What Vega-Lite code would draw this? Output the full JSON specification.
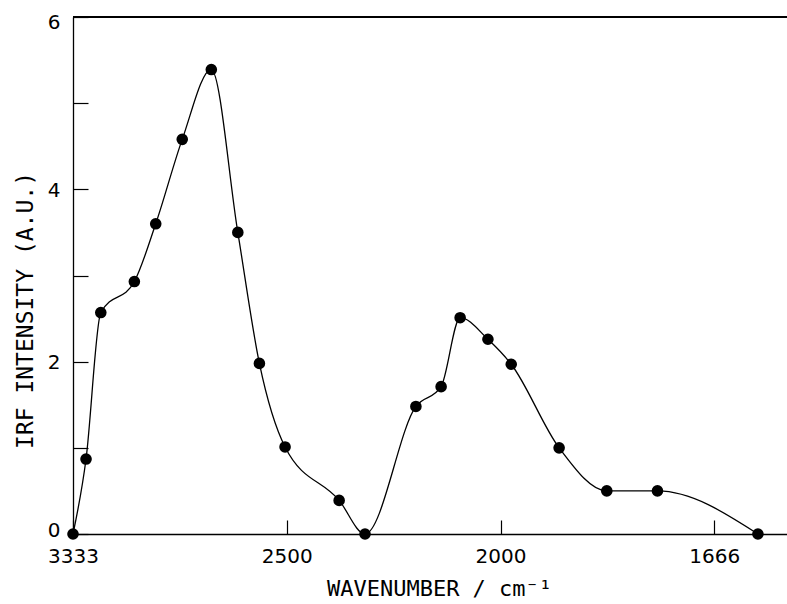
{
  "$schema": "https://vega.github.io/schema/vega-lite/v6.json",
  "width": 714,
  "height": 517,
  "autosize": {"type": "none"},
  "padding": {"left": 73, "top": 17, "right": 0, "bottom": 70},
  "background": "white",
  "config": {
    "view": {"stroke": null},
    "axis": {
      "grid": false,
      "domainColor": "black",
      "domainWidth": 1.3,
      "tickColor": "black",
      "tickWidth": 1.2,
      "labelColor": "black",
      "titleColor": "black",
      "labelFont": "DejaVu Sans",
      "labelFontSize": 20,
      "labelFontWeight": "normal",
      "labelFlush": false,
      "labelOverlap": false,
      "titleFont": "DejaVu Sans Mono",
      "titleFontSize": 22,
      "titleFontWeight": "normal"
    }
  },
  "data": {
    "values": [
      {"wavelength_um": 3.000, "irf": 0.00},
      {"wavelength_um": 3.061, "irf": 0.87},
      {"wavelength_um": 3.130, "irf": 2.57},
      {"wavelength_um": 3.287, "irf": 2.93},
      {"wavelength_um": 3.387, "irf": 3.60},
      {"wavelength_um": 3.511, "irf": 4.58},
      {"wavelength_um": 3.647, "irf": 5.39},
      {"wavelength_um": 3.771, "irf": 3.50},
      {"wavelength_um": 3.872, "irf": 1.98},
      {"wavelength_um": 3.992, "irf": 1.01},
      {"wavelength_um": 4.245, "irf": 0.39},
      {"wavelength_um": 4.366, "irf": 0.00},
      {"wavelength_um": 4.604, "irf": 1.48},
      {"wavelength_um": 4.722, "irf": 1.71},
      {"wavelength_um": 4.811, "irf": 2.51},
      {"wavelength_um": 4.941, "irf": 2.26},
      {"wavelength_um": 5.050, "irf": 1.97},
      {"wavelength_um": 5.274, "irf": 1.00},
      {"wavelength_um": 5.497, "irf": 0.50},
      {"wavelength_um": 5.734, "irf": 0.50},
      {"wavelength_um": 6.204, "irf": 0.00}
    ]
  },
  "encoding": {
    "x": {
      "field": "wavelength_um",
      "type": "quantitative",
      "scale": {"domain": [3, 6.34], "nice": false, "zero": false},
      "axis": {
        "values": [3, 4, 5, 6],
        "labelExpr": "floor(10000 / datum.value)",
        "tickSize": -14,
        "labelPadding": 26,
        "title": "WAVENUMBER / cm⁻¹",
        "titleX": 366,
        "titleY": 66,
        "titleAlign": "center",
        "titleBaseline": "bottom"
      }
    },
    "y": {
      "field": "irf",
      "type": "quantitative",
      "scale": {"domain": [0, 6], "nice": false},
      "axis": {
        "values": [0, 1, 2, 3, 4, 5, 6],
        "labelExpr": "datum.value % 2 == 0 ? datum.label : ''",
        "labelOffset": {
          "condition": [
            {"test": "datum.value == 0", "value": -4},
            {"test": "datum.value == 6", "value": 5}
          ],
          "value": 1
        },
        "tickSize": -15,
        "labelPadding": 28,
        "title": "IRF INTENSITY (A.U.)",
        "titleFontSize": 23,
        "titleAngle": -90,
        "titleX": -48,
        "titleY": 293,
        "titleAlign": "center",
        "titleBaseline": "middle"
      }
    }
  },
  "layer": [
    {
      "mark": {"type": "rule", "color": "black", "strokeWidth": 1.3},
      "encoding": {"y": {"datum": 6}, "x": {"datum": 3}, "x2": {"datum": 6.34}}
    },
    {
      "mark": {"type": "line", "interpolate": "monotone", "color": "black", "strokeWidth": 1.3}
    },
    {
      "mark": {"type": "point", "filled": true, "shape": "circle", "size": 135, "color": "black", "opacity": 1}
    }
  ]
}
